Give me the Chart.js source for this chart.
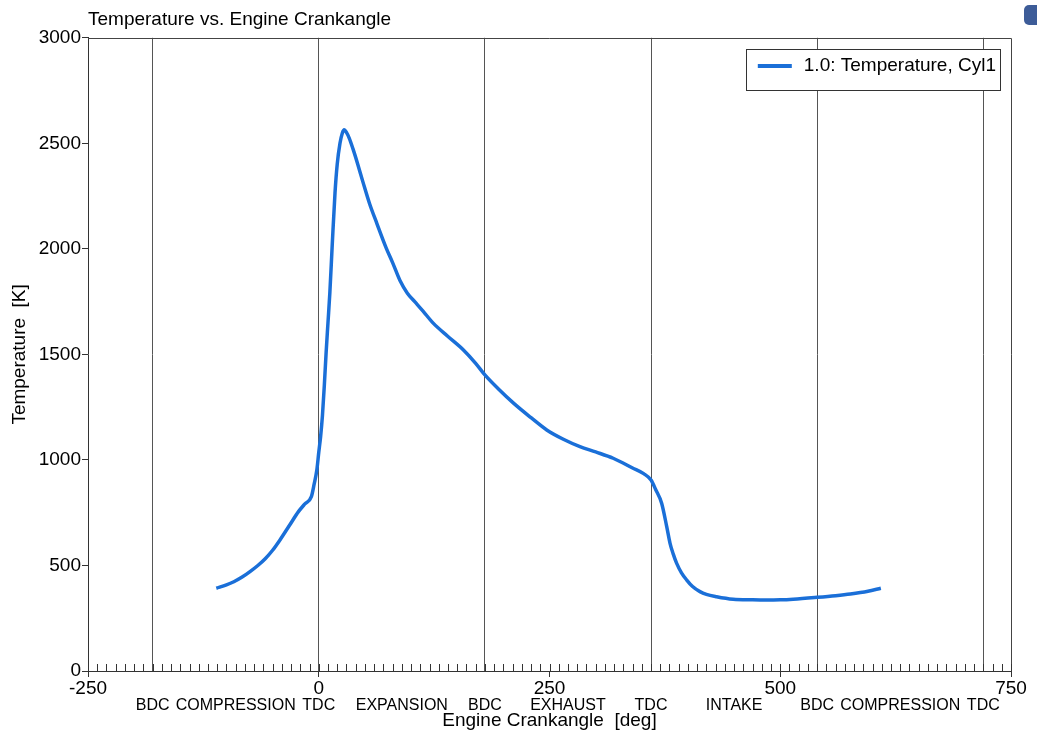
<!DOCTYPE html>
<html><head><meta charset="utf-8">
<script src="https://cdn.jsdelivr.net/npm/chart.js@4/dist/chart.umd.min.js"></script>
<style>html,body{margin:0;padding:0;background:#fff;}canvas{display:block;}</style>
</head><body>
<canvas id="c" width="1037" height="735"></canvas>
<script>
const crankAngle = [-111,-100,-92,-83,-74.5,-66,-58,-50,-42,-32,-22,-15,-8,-5,-2,0,2,4,6,8,10,12,14.7,17.6,20,23,25.5,27.6,30,33,37,42,48,55,63,73,80,88,96,104,113,124,140,157,170,180,195,211,230,247,265,283,300,319,340,352,360,365,371.5,377,380.6,384,387.8,393,398.7,405,413,420,431,449,470,485,500,514,540,560,576,595,609];
const temperature = [392,408,423,445,471,500,532,572,621,688,755,792,826,885,955,1035,1110,1210,1350,1510,1650,1790,2027,2264,2400,2500,2548,2564,2552,2525,2475,2405,2315,2215,2120,2005,1935,1850,1790,1750,1705,1648,1585,1520,1458,1403,1335,1269,1200,1142,1098,1063,1038,1008,962,935,905,860,795,684,605,555,510,465,431,400,376,363,352,340,337,336,337,340,349,357,365,378,392];
const xTickValues = [-250,0,250,500,750];
const yTickValues = [0,500,1000,1500,2000,2500,3000];
const phaseAngles = [-180,-90,0,90,180,270,360,450,540,630,720];
const phaseLabels = ['BDC','COMPRESSION','TDC','EXPANSION','BDC','EXHAUST','TDC','INTAKE','BDC','COMPRESSION','TDC'];
const seriesLabel = '1.0: Temperature, Cyl1';
const minorTickStep = 10;

const FONT = "'Liberation Sans', Arial, Helvetica, sans-serif";
const lineColor = '#1a6fd8';

const decor = {
  id: 'decor',
  afterDraw(chart) {
    const {ctx, chartArea: a, scales: {x}} = chart;
    ctx.save();
    ctx.strokeStyle = '#444'; ctx.lineWidth = 1;
    ctx.beginPath();
    ctx.moveTo(a.left, Math.round(a.top) + 0.5);
    ctx.lineTo(Math.round(a.right) + 0.5, Math.round(a.top) + 0.5);
    ctx.lineTo(Math.round(a.right) + 0.5, a.bottom);
    ctx.stroke();
    ctx.strokeStyle = '#333';
    ctx.beginPath();
    for (let v = x.min; v <= x.max; v += minorTickStep) {
      const px = Math.round(x.getPixelForValue(v)) + 0.5;
      ctx.moveTo(px, a.bottom);
      ctx.lineTo(px, a.bottom - 7);
    }
    ctx.stroke();
    ctx.font = '19px ' + FONT;
    const ds = chart.data.datasets[0];
    const tw = ctx.measureText(ds.label).width;
    const w = 12 + 34 + 12 + tw + 4, h = 41;
    const r = Math.round(a.right) - 11, t = Math.round(a.top) + 11;
    const l = r - w;
    ctx.fillStyle = '#fff';
    ctx.fillRect(l, t, w, h);
    ctx.strokeStyle = '#333';
    ctx.strokeRect(Math.round(l) + 0.5, t + 0.5, Math.round(w), h);
    ctx.strokeStyle = ds.borderColor; ctx.lineWidth = 4;
    ctx.beginPath(); ctx.moveTo(l + 12, t + 17); ctx.lineTo(l + 46, t + 17); ctx.stroke();
    ctx.fillStyle = '#000'; ctx.textBaseline = 'middle'; ctx.textAlign = 'left';
    ctx.fillText(ds.label, l + 58, t + 17);
    ctx.fillStyle = '#3d5c98';
    ctx.beginPath();
    if (ctx.roundRect) ctx.roundRect(chart.width - 13, 5, 20, 20, 5); else ctx.rect(chart.width - 13, 5, 20, 20);
    ctx.fill();
    ctx.restore();
  }
};

new Chart(document.getElementById('c'), {
  type: 'line',
  data: {
    datasets: [{
      label: seriesLabel,
      data: crankAngle.map((v, i) => ({x: v, y: temperature[i]})),
      borderColor: lineColor,
      backgroundColor: lineColor,
      borderWidth: 3.5,
      pointRadius: 0,
      fill: false,
      cubicInterpolationMode: 'monotone',
      xAxisID: 'x',
      yAxisID: 'y'
    }]
  },
  options: {
    responsive: false,
    animation: false,
    devicePixelRatio: 1,
    layout: {padding: {left: 0, right: 26, top: 0, bottom: 0}},
    plugins: {
      legend: {display: false},
      tooltip: {enabled: false},
      title: {
        display: true, text: 'Temperature vs. Engine Crankangle', align: 'start', fullSize: false,
        color: '#000', font: {family: FONT, size: 19, weight: 'normal'}, padding: {top: 8, bottom: 7}
      }
    },
    scales: {
      x: {
        type: 'linear', position: 'bottom', min: -250, max: 750, weight: 0,
        afterBuildTicks: s => { s.ticks = xTickValues.map(v => ({value: v})); },
        afterFit: s => { s.height = 24; },
        grid: {drawOnChartArea: false, drawTicks: true, tickLength: 6, color: '#333'},
        border: {display: true, color: '#333', width: 1},
        ticks: {color: '#000', font: {family: FONT, size: 19}, padding: 0, maxRotation: 0, autoSkip: false, callback: v => String(v)}
      },
      x2: {
        type: 'linear', position: 'bottom', min: -250, max: 750, weight: 1,
        afterBuildTicks: s => { s.ticks = phaseAngles.map(v => ({value: v})); },
        afterFit: s => { s.height = 40; },
        grid: {
          drawOnChartArea: true, drawTicks: false, lineWidth: 1,
          color: c => (c.tick && Math.abs(c.tick.value) % 180 === 0) ? '#555' : 'rgba(0,0,0,0)'
        },
        border: {display: false},
        ticks: {
          callback: (v, i) => phaseLabels[i], color: '#000', font: {family: FONT, size: 16},
          padding: 1, maxRotation: 0, autoSkip: false
        },
        title: {display: true, text: 'Engine Crankangle  [deg]', color: '#000', font: {family: FONT, size: 19}, padding: {top: 0, bottom: 3}}
      },
      y: {
        type: 'linear', position: 'left', min: 0, max: 3000,
        afterBuildTicks: s => { s.ticks = yTickValues.map(v => ({value: v})); },
        afterFit: s => { s.width = 88; },
        grid: {drawOnChartArea: false, drawTicks: true, tickLength: 6, color: '#333'},
        border: {display: true, color: '#333', width: 1},
        ticks: {color: '#000', font: {family: FONT, size: 19}, padding: 1, callback: v => String(v)},
        title: {display: true, text: 'Temperature  [K]', color: '#000', font: {family: FONT, size: 19}, padding: {top: 8, bottom: 0}}
      }
    }
  },
  plugins: [decor]
});
</script>
</body></html>
